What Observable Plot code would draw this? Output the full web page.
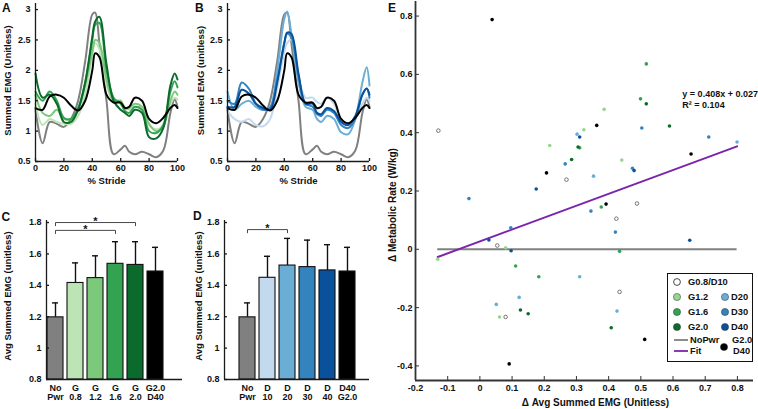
<!DOCTYPE html>
<html><head><meta charset="utf-8">
<script src="https://cdn.jsdelivr.net/npm/d3@7"></script>
<script src="https://cdn.jsdelivr.net/npm/@observablehq/plot@0.6"></script>
<style>
body{margin:0;background:#fff;}
#fig{position:relative;width:758px;height:409px;overflow:hidden;font-family:"Liberation Sans",Arial,Helvetica,sans-serif;font-weight:bold;color:#111;background:#fff;}
#fig .panel{position:absolute;}
#fig svg{background:transparent;overflow:visible;}
.letter{position:absolute;font-size:12px;line-height:12px;font-weight:bold;}
.legend{position:absolute;background:#fff;border:1.3px solid #111;box-sizing:border-box;}
</style></head><body><div id="fig"></div>
<script>
// ---------- Panel A/B data: summed EMG over % stride ----------
const stride = [0,5,10,15,20,25,30,35,40,42,45,50,55,60,63,66,70,75,80,85,90,95,98,100];
const strideTicks = [0,20,40,60,80,100];
const emgTicks = [0.5,1,1.5,2,2.5,3];
const noPwr  = [1.35,0.80,1.15,1.12,1.07,1.20,1.50,2.15,2.92,2.95,2.45,1.50,0.62,0.70,0.76,0.66,0.62,0.66,0.62,0.57,0.68,1.30,1.52,1.40];
const g08    = [1.45,1.10,1.20,1.15,1.12,1.12,1.25,1.60,2.25,2.45,2.35,1.75,1.50,1.48,1.40,1.35,1.40,1.35,1.10,1.03,1.10,1.45,1.55,1.52];
const g12    = [1.60,1.30,1.25,1.35,1.20,1.20,1.35,1.75,2.30,2.50,2.45,1.85,1.50,1.50,1.38,1.38,1.45,1.40,1.12,1.00,1.08,1.50,1.65,1.60];
const g16    = [1.65,1.50,1.65,1.50,1.22,1.20,1.38,1.80,2.50,2.75,2.78,2.00,1.55,1.45,1.33,1.30,1.40,1.35,1.00,0.97,1.10,1.65,1.82,1.72];
const g20    = [1.95,1.55,1.60,1.45,1.15,1.15,1.35,1.80,2.55,2.80,2.88,2.10,1.50,1.35,1.30,1.25,1.35,1.30,0.90,0.88,1.05,1.75,1.95,1.85];
const g20d40 = [1.38,1.35,1.57,1.60,1.55,1.42,1.34,1.50,2.00,2.28,2.22,1.60,1.47,1.47,1.38,1.40,1.55,1.50,1.20,1.13,1.22,1.38,1.43,1.38];
const d10    = [1.33,1.20,1.15,1.20,1.10,1.08,1.20,1.70,2.30,2.45,2.50,1.90,1.55,1.55,1.48,1.45,1.55,1.45,1.15,1.10,1.20,1.45,1.55,1.50];
const d20    = [1.65,1.35,1.45,1.50,1.40,1.35,1.40,2.00,2.85,2.97,2.60,1.80,1.40,1.35,1.20,1.15,1.25,1.20,0.98,0.95,1.20,1.80,2.05,1.75];
const d30    = [1.50,1.45,1.80,1.70,1.45,1.35,1.38,1.85,2.45,2.60,2.55,1.90,1.45,1.40,1.28,1.25,1.35,1.30,1.10,1.05,1.20,1.60,1.70,1.55];
const d40    = [1.40,1.40,1.68,1.62,1.45,1.38,1.35,1.80,2.45,2.62,2.60,1.95,1.45,1.45,1.30,1.28,1.38,1.33,1.15,1.10,1.25,1.60,1.70,1.60];

// ---------- Panel C/D data: average summed EMG ----------
const barTicks = [0.8,1,1.2,1.4,1.6,1.8];
const labelsC = ["No\nPwr","G\n0.8","G\n1.2","G\n1.6","G\n2.0","G2.0\nD40"];
const meansC  = [1.196,1.415,1.446,1.537,1.530,1.488];
const errsC   = [0.092,0.128,0.142,0.141,0.148,0.154];
const labelsD = ["No\nPwr","D\n10","D\n20","D\n30","D\n40","D40\nG2.0"];
const meansD  = [1.196,1.448,1.526,1.516,1.495,1.488];
const errsD   = [0.092,0.137,0.173,0.172,0.164,0.154];
const sigC = [{from:1,to:5,y:1.80},{from:1,to:4,y:1.75}];
const sigD = [{from:1,to:3,y:1.755}];

// ---------- Panel E data: delta metabolic rate vs delta EMG ----------
const ptsG08D10 = [[-0.129,0.407],[0.269,0.239],[0.054,0.013],[0.424,0.105],[0.488,0.157],[0.434,-0.146],[0.080,-0.232]];
const ptsG12 = [[0.386,0.480],[0.323,0.410],[0.217,0.356],[0.441,0.306],[0.080,0.005],[-0.131,-0.034],[0.061,-0.232]];
const ptsG16 = [[0.517,0.636],[0.499,0.516],[0.310,0.348],[0.377,0.145],[0.434,-0.007],[0.111,-0.057],[0.183,-0.094]];
const ptsG20 = [[0.517,0.499],[0.589,0.423],[0.305,0.351],[0.285,0.308],[0.126,-0.208],[0.150,-0.221],[0.408,-0.269]];
const ptsD20 = [[0.302,0.395],[0.799,0.368],[0.353,0.251],[0.310,-0.094],[0.122,-0.165],[0.051,-0.189],[0.426,-0.212]];
const ptsD30 = [[-0.034,0.174],[0.503,0.416],[0.711,0.385],[0.265,0.293],[0.474,0.278],[0.345,0.131],[0.421,0.059],[0.096,0.074]];
const ptsD40 = [[0.310,0.385],[0.479,0.270],[0.175,0.207],[0.028,0.032],[0.097,-0.005],[0.652,0.031]];
const ptsG20D40 = [[0.038,0.788],[0.363,0.425],[0.656,0.327],[0.207,0.262],[0.392,0.155],[0.091,-0.393],[0.512,-0.309]];
const fitSlope = 0.408, fitIntercept = 0.027;
const eqText = ["y = 0.408x + 0.027", "R\u00b2 = 0.104"];
const eqPos = [[0.629,0.532],[0.629,0.495]];
const eTicksX = [-0.2,-0.1,0,0.1,0.2,0.3,0.4,0.5,0.6,0.7,0.8];
const eTicksY = [-0.4,-0.2,0,0.2,0.4,0.6,0.8];

// ---------- colours ----------
const C = {nopwr:"#808080", g08:"#bde4b5", g12:"#7dc97b", g16:"#33a352", g20:"#0a6b2d",
           d10:"#c3d9ed", d20:"#6aaed6", d30:"#3283be", d40:"#0a519c", combo:"#000000",
           sg12:"#98d591", fit:"#7a25ac"};

const FONT = "'Liberation Sans', Arial, Helvetica, sans-serif";
const baseStyle = {background:"transparent", fontFamily:FONT, fontSize:"9px", fontWeight:"bold", color:"#111", overflow:"visible"};
const fmt = d => String(+(+d).toFixed(2));
const fig = document.getElementById("fig");
function place(node, left, top){ const d=document.createElement("div"); d.className="panel"; d.style.left=left+"px"; d.style.top=top+"px"; d.appendChild(node); fig.appendChild(d); }
function letter(t, left, top){ const d=document.createElement("div"); d.className="letter"; d.textContent=t; d.style.left=left+"px"; d.style.top=top+"px"; fig.appendChild(d); }
const AX = {stroke:"#1a1a1a", strokeWidth:1.3};
const YT = {frameAnchor:"left", rotate:-90, textAnchor:"middle", lineAnchor:"middle"};
const XT = {frameAnchor:"bottom", textAnchor:"middle", lineAnchor:"middle"};

function lineChart(series, yTitle, W, mL, titleDx){
  const H=190, mT=3, mB=29, mR=8, fw=W-mL-mR, fh=H-mT-mB;
  return Plot.plot({
    width:W, height:H, marginLeft:mL, marginRight:mR, marginTop:mT, marginBottom:mB, style:baseStyle,
    x:{domain:[0,100], ticks:strideTicks, tickSize:0, tickPadding:3, label:null, tickFormat:fmt},
    y:{domain:[0.5,3.1], ticks:emgTicks, tickSize:0, tickPadding:5, label:null, tickFormat:fmt},
    marks:[
      ...series.map(([vals,color]) => Plot.line(stride.map((s,i)=>({s, v:vals[i]})), {x:"s", y:"v", stroke:color, strokeWidth:2, curve:"catmull-rom"})),
      Plot.ruleX([0], AX), Plot.ruleY([0.5], AX),
      Plot.ruleX(strideTicks, {x:d=>d, insetTop:fh-3, ...AX}),
      Plot.ruleY(emgTicks, {y:d=>d, insetRight:fw-3, ...AX}),
      Plot.text([yTitle], {text:d=>d, ...YT, dx:titleDx, dy:-2, fontSize:9.5}),
      Plot.text(["% Stride"], {text:d=>d, ...XT, dy:19, fontSize:9.5})
    ]
  });
}

function barChart(labels, means, errs, fills, sigs, xDomain, W, mL, mR, titleDx){
  const H=209, mT=20, mB=30, fw=W-mL-mR, yMin=0.8;
  const rows = labels.map((lab,i)=>({i:i+1, lab, m:means[i], e:errs[i], fill:fills[i]}));
  return Plot.plot({
    width:W, height:H, marginLeft:mL, marginRight:mR, marginTop:mT, marginBottom:mB, style:baseStyle,
    x:{domain:xDomain, axis:null},
    y:{domain:[0.8,1.813], ticks:barTicks, tickSize:0, tickPadding:5, label:null, tickFormat:fmt},
    color:{type:"identity"},
    marks:[
      Plot.ruleX(rows, {x:"i", y1:"m", y2:d=>d.m+d.e, stroke:"#111", strokeWidth:1.4}),
      Plot.ruleY(rows, {y:d=>d.m+d.e, x1:d=>d.i-0.15, x2:d=>d.i+0.15, stroke:"#111", strokeWidth:1.4}),
      Plot.rect(rows, {x1:d=>d.i-0.4, x2:d=>d.i+0.4, y1:yMin, y2:"m", fill:"fill", stroke:"#111", strokeWidth:1.1}),
      ...sigs.map(s => Plot.line([[s.from,s.y-0.02],[s.from,s.y],[s.to,s.y],[s.to,s.y-0.02]], {stroke:"#333", strokeWidth:0.9})),
      Plot.text(sigs, {x:s=>(s.from+s.to)/2, y:"y", text:()=>"*", lineAnchor:"middle", dy:-1, fontSize:11}),
      Plot.text(rows, {x:"i", y:yMin, text:"lab", lineAnchor:"top", dy:4, lineHeight:1.1, fontSize:9}),
      Plot.ruleX([xDomain[0]], AX), Plot.ruleY([yMin], AX),
      Plot.ruleY(barTicks, {y:d=>d, insetRight:fw-3, ...AX}),
      Plot.text(["Avg Summed EMG (unitless)"], {text:d=>d, ...YT, dx:titleDx, dy:-4, fontSize:9.5})
    ]
  });
}

// A
place(lineChart([[noPwr,C.nopwr],[g08,C.g08],[g12,C.g12],[g16,C.g16],[g20,C.g20],[g20d40,C.combo]], "Summed EMG (Unitless)", 185, 35, -28), 0, 0);
// B
place(lineChart([[noPwr,C.nopwr],[d10,C.d10],[d20,C.d20],[d30,C.d30],[d40,C.d40],[g20d40,C.combo]], "Summed EMG (unitless)", 192, 42, -27), 185, 0);
// C
place(barChart(labelsC, meansC, errsC, [C.nopwr,C.g08,C.g12,C.g16,C.g20,C.combo], sigC, [0.55,7.35], 190, 46, 8, -39), 0, 200);
// D
place(barChart(labelsD, meansD, errsD, [C.nopwr,C.d10,C.d20,C.d30,C.d40,C.combo], sigD, [-0.15,7.1], 185, 34, 6, -26), 190, 200);

// E
(function(){
  const W=383, H=409, mL=40, mR=5, mT=1, mB=29, fw=W-mL-mR, fh=H-mT-mB;
  const groups = [
    {pts:ptsG08D10, fill:"#fff", stroke:"#555"},
    {pts:ptsG12, fill:C.sg12, stroke:"none"},
    {pts:ptsG16, fill:C.g16, stroke:"none"},
    {pts:ptsG20, fill:C.g20, stroke:"none"},
    {pts:ptsD20, fill:C.d20, stroke:"none"},
    {pts:ptsD30, fill:C.d30, stroke:"none"},
    {pts:ptsD40, fill:C.d40, stroke:"none"},
    {pts:ptsG20D40, fill:C.combo, stroke:"none"}
  ];
  const all = groups.flatMap(g=>g.pts);
  const [xLo, xHi] = d3.extent(all, d=>d[0]);
  const svg = Plot.plot({
    width:W, height:H, marginLeft:mL, marginRight:mR, marginTop:mT, marginBottom:mB, style:baseStyle,
    x:{domain:[-0.2,0.85], ticks:eTicksX, tickSize:0, tickPadding:4, label:null, tickFormat:fmt},
    y:{domain:[-0.45,0.85], ticks:eTicksY, tickSize:0, tickPadding:3, label:null, tickFormat:fmt},
    marks:[
      Plot.ruleY([0], {x1:xLo, x2:xHi, stroke:C.nopwr, strokeWidth:2}),
      Plot.line([xLo, xHi].map(x=>[x, fitSlope*x+fitIntercept]), {stroke:C.fit, strokeWidth:2}),
      ...groups.map(g => Plot.dot(g.pts, {x:d=>d[0], y:d=>d[1], r:1.8, fill:g.fill, stroke:g.stroke, strokeWidth:0.8})),
      Plot.text(eqText, {x:(d,i)=>eqPos[i][0], y:(d,i)=>eqPos[i][1], text:d=>d, textAnchor:"start", fontSize:9}),
      Plot.ruleX([-0.2], {stroke:"#333", strokeWidth:1.8}), Plot.ruleY([-0.45], {stroke:"#333", strokeWidth:1.8}),
      Plot.ruleX(eTicksX, {x:d=>d, insetTop:fh-4, stroke:"#333", strokeWidth:1}),
      Plot.ruleY(eTicksY, {y:d=>d, insetRight:fw-4, stroke:"#333", strokeWidth:1}),
      Plot.text(["\u0394 Metabolic Rate (W/kg)"], {text:d=>d, ...YT, dx:-23, dy:14, fontSize:10}),
      Plot.text(["\u0394 Avg Summed EMG (Unitless)"], {text:d=>d, ...XT, dy:22, dx:11, fontSize:10})
    ]
  });
  place(svg, 375, 0);
})();

// legend for E
(function(){
  const items = [
    {type:"open", x:9, y:8, label:"G0.8/D10", tx:20},
    {type:"dot", color:C.sg12, x:9, y:23, label:"G1.2", tx:20},
    {type:"dot", color:C.d20, x:57, y:23, label:"D20", tx:63},
    {type:"dot", color:C.g16, x:9, y:38, label:"G1.6", tx:20},
    {type:"dot", color:C.d30, x:57, y:38, label:"D30", tx:63},
    {type:"dot", color:C.g20, x:9, y:53, label:"G2.0", tx:20},
    {type:"dot", color:C.d40, x:57, y:53, label:"D40", tx:63},
    {type:"line", color:C.nopwr, x:6, y:66, label:"NoPwr", tx:22},
    {type:"line", color:C.fit, x:6, y:77, label:"Fit", tx:22},
    {type:"dot", color:"#000", x:56, y:73, label:"", tx:64}
  ];
  const ns="http://www.w3.org/2000/svg";
  const box=document.createElement("div"); box.className="legend";
  Object.assign(box.style,{left:"667px",top:"273px",width:"86px",height:"89px"});
  const svg=document.createElementNS(ns,"svg"); svg.setAttribute("width",84); svg.setAttribute("height",87);
  svg.style.position="absolute"; svg.style.left="0"; svg.style.top="0";
  function el(tag, attrs){ const e=document.createElementNS(ns,tag); for(const k in attrs) e.setAttribute(k,attrs[k]); svg.appendChild(e); return e; }
  function txt(t,x,y){ const e=el("text",{x, y, "font-size":9.3, "font-weight":"bold", "font-family":FONT, "dominant-baseline":"central", fill:"#111"}); e.textContent=t; }
  for(const it of items){
    if(it.type==="open") el("circle",{cx:it.x, cy:it.y, r:3.4, fill:"#fff", stroke:"#333", "stroke-width":0.9});
    else if(it.type==="dot") el("circle",{cx:it.x, cy:it.y, r:3.6, fill:it.color, stroke:"#333", "stroke-width":0.5});
    else el("line",{x1:it.x, x2:it.x+14, y1:it.y, y2:it.y, stroke:it.color, "stroke-width":1.8});
    if(it.label) txt(it.label, it.tx, it.y);
  }
  txt("G2.0", 64, 66); txt("D40", 65, 77);
  box.appendChild(svg); fig.appendChild(box);
})();

letter("A", 2, 1.5); letter("B", 195, 1.5); letter("C", 1.5, 210.5); letter("D", 193, 209.5); letter("E", 388, 1.5);
</script></body></html>
